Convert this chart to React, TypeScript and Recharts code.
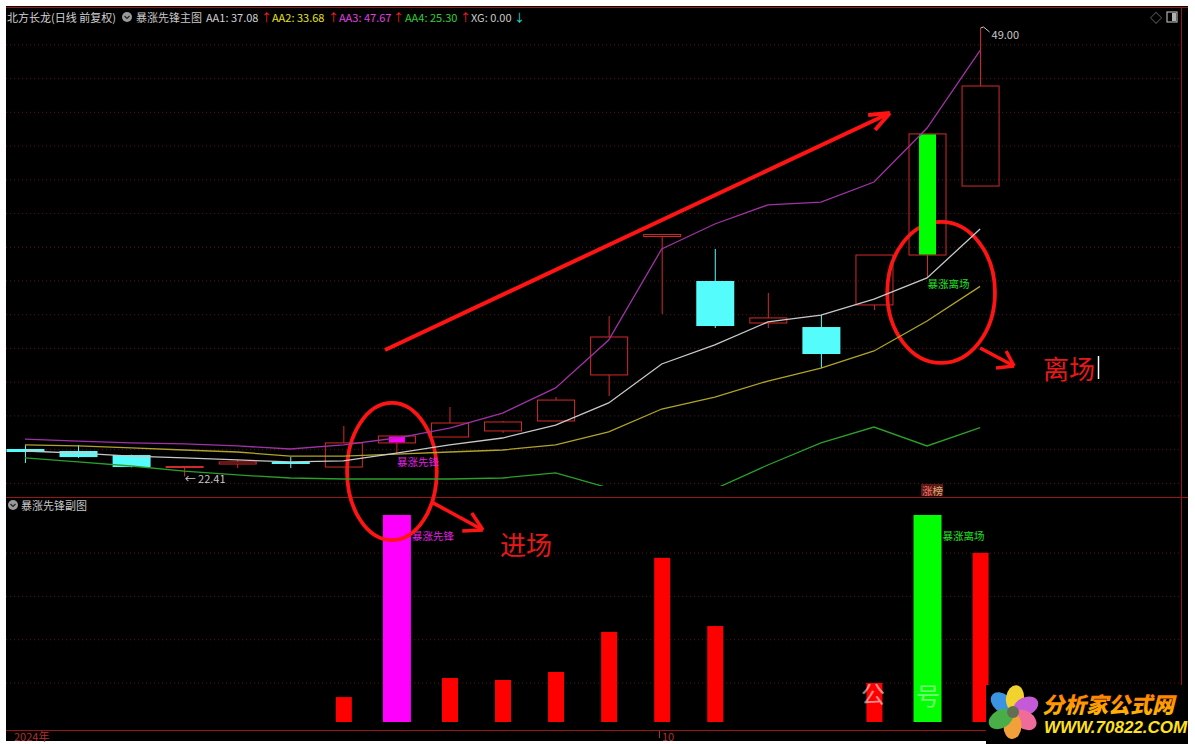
import React from 'react';
import {
  ComposedChart,
  Bar,
  Line,
  XAxis,
  YAxis,
  CartesianGrid,
  ReferenceLine,
  ReferenceArea,
  ReferenceDot,
} from 'recharts';

// ---------------- data ----------------
const candleIdx = [0, 1, 2, 3, 4, 5, 6, 7, 8, 9, 10, 11, 12, 13, 14, 15, 16, 17, 18];
const opens = [24.04, 23.92, 23.68, 22.97, 23.15, 23.27, 22.97, 24.40, 24.75, 25.11, 25.70, 28.43, 36.64, 34.00, 31.51, 31.27, 32.58, 35.54, 39.63];
const closes = [23.86, 23.56, 22.97, 23.00, 23.27, 23.15, 24.40, 24.81, 25.58, 25.64, 26.94, 30.68, 36.76, 31.33, 31.81, 29.67, 35.54, 42.72, 45.56];
const highs = [24.28, 24.28, 23.70, 23.03, 23.39, 23.56, 25.40, 24.81, 26.53, 25.70, 27.12, 31.92, 36.76, 35.90, 33.29, 31.98, 35.54, 42.72, 49.00];
const lows = [23.21, 23.51, 22.95, 22.41, 22.91, 22.91, 22.97, 23.80, 24.75, 24.99, 25.70, 27.18, 32.04, 31.21, 31.21, 28.84, 32.28, 34.18, 39.63];

const aa1 = [23.92, 23.80, 23.62, 23.51, 23.39, 23.27, 23.33, 23.80, 24.28, 24.69, 25.46, 26.77, 29.08, 30.21, 31.57, 31.98, 32.93, 34.18, 37.08];
const aa2 = [24.28, 24.22, 24.10, 23.98, 23.86, 23.62, 23.62, 23.74, 23.86, 23.98, 24.28, 25.05, 26.41, 27.12, 28.07, 28.84, 29.85, 31.63, 33.68];
const aa3 = [24.63, 24.51, 24.40, 24.34, 24.22, 24.04, 24.28, 24.69, 25.28, 26.17, 27.66, 30.50, 35.90, 37.38, 38.51, 38.68, 39.87, 43.07, 47.67];
const aa4 = [23.51, 23.27, 23.03, 22.73, 22.50, 22.32, 22.26, 22.26, 22.26, 22.32, 22.62, 21.73, 20.72, 21.67, 23.09, 24.40, 25.34, 24.22, 25.30];

const signals = ['', '', '', '', '', '', '', 'pioneer', '', '', '', '', '', '', '', '', '', 'exit', ''];
const subValues: (number | null)[] = [null, null, null, null, null, null, 11.5, 95.6, 20.3, 19.4, 23.1, 41.6, 75.8, 44.3, null, null, 18.0, 95.6, 78.1];

const gridPrices = [22, 24, 26, 28, 30, 32, 34, 36, 38, 40, 42, 44, 46, 48];
const subGrid = [18, 38, 58, 78];

const priceDomain: [number, number] = [21.845, 50.186];
const subDomain: [number, number] = [0, 103.9];
const xDomain: [number, number] = [-0.358, 21.786];

// annotations in data coordinates (index, price)
const trendArrowShaft = [[6.785, 29.91], [16.3, 43.96]];
const trendArrowHeads = [[15.89, 43.84], [16.02, 42.95]];
const exitArrowShaft = [[18.0, 30.03], [18.64, 28.96]];
const exitArrowHeads = [[18.3, 28.84], [18.49, 29.85]];
const entryEllipse = { x1: 6.07, x2: 7.76, y1: 18.64, y2: 26.77 };
const exitEllipse = { x1: 16.25, x2: 18.28, y1: 29.14, y2: 37.5 };
const entryArrowShaft = [[7.69, 101.2], [8.63, 88.7]];
const entryArrowHeads = [[8.24, 88.2], [8.42, 96.5]];
const rankBadge = { x: 17, y: 21.61, text1: '涨', text2: '榜' };

const headerItems = [
  { t: '北方长龙(日线 前复权)', x: 7, c: '#d2d2d2' },
  { t: '暴涨先锋主图', x: 136, c: '#c8c8c8' },
  { t: 'AA1: 37.08', x: 206, c: '#d0d0d0' },
  { t: '↑', x: 261, c: '#ff2020' },
  { t: 'AA2: 33.68', x: 272, c: '#e6e020' },
  { t: '↑', x: 328, c: '#ff2020' },
  { t: 'AA3: 47.67', x: 339, c: '#e040e0' },
  { t: '↑', x: 393, c: '#ff2020' },
  { t: 'AA4: 25.30', x: 405, c: '#30d030' },
  { t: '↑', x: 460, c: '#ff2020' },
  { t: 'XG: 0.00', x: 471, c: '#c8c8c8' },
  { t: '↓', x: 514, c: '#30e0e0' },
];

const hiIdx = highs.indexOf(Math.max(...highs));
const loIdx = lows.indexOf(Math.min(...lows));

const candleData = candleIdx.map((i) => ({
  i,
  o: opens[i],
  c: closes[i],
  h: highs[i],
  l: lows[i],
  range: [lows[i], highs[i]],
  aa1: aa1[i],
  aa2: aa2[i],
  aa3: aa3[i],
  aa4: aa4[i],
  sig: signals[i],
  hiLabel: i === hiIdx ? highs[i].toFixed(2) : null,
  loLabel: i === loIdx ? lows[i].toFixed(2) : null,
}));

const subData = candleIdx.map((i) => ({ i, v: subValues[i], sig: signals[i] }));

// ---------------- styles ----------------
const FONT = '"Noto Sans CJK SC", "Noto Sans", sans-serif';
const UP = '#d42a2a';
const DOWN = '#55fcfc';
const BORDER = '#9a1616';
const GRID = '#5a1414';
const ANNO = '#ff1414';

const CandleShape = (props: any) => {
  const { x, y, width, height, payload } = props;
  if (!payload || x == null || y == null) return null;
  const { o, c, h, l, sig, hiLabel, loLabel } = payload;
  const cx = x + width / 2;
  const top = Math.min(y, y + height);
  const hh = Math.abs(height);
  const py = (v: number) => top + ((h - v) / (h - l)) * hh;
  const up = c >= o;
  const bTop = py(Math.max(o, c));
  const bBot = py(Math.min(o, c));
  const bh = Math.max(bBot - bTop, 1);
  const half = width / 2;
  const parts: any[] = [];
  if (up) {
    parts.push(<line key="w1" x1={cx} x2={cx} y1={py(h)} y2={bTop} stroke={UP} strokeWidth={1} />);
    parts.push(<line key="w2" x1={cx} x2={cx} y1={bTop + bh} y2={py(l)} stroke={UP} strokeWidth={1} />);
    parts.push(<rect key="b" x={cx - half + 0.5} y={bTop} width={width - 1} height={bh} fill="none" stroke={UP} strokeWidth={1} />);
  } else {
    parts.push(<line key="w" x1={cx} x2={cx} y1={py(h)} y2={py(l)} stroke={DOWN} strokeWidth={1} />);
    parts.push(<rect key="b" x={cx - half} y={bTop} width={width} height={bh} fill={DOWN} />);
  }
  if (sig === 'pioneer') {
    parts.push(<rect key="m" x={cx - 8} y={bTop + 0.5} width={16} height={bh - 1} fill="#ff00ff" />);
    parts.push(
      <text key="ml" x={cx} y={py(l) + 8} fill="#e020e0" fontSize={10.5} fontFamily={FONT} dominantBaseline="central">
        暴涨先锋
      </text>
    );
  }
  if (sig === 'exit') {
    parts.push(<rect key="m" x={cx - 8.5} y={bTop + 0.5} width={17} height={bh - 1} fill="#00ff00" />);
    parts.push(
      <text key="ml" x={cx} y={py(l) + 6} fill="#20e020" fontSize={10.5} fontFamily={FONT} dominantBaseline="central">
        暴涨离场
      </text>
    );
  }
  if (hiLabel) {
    const ty = py(h);
    parts.push(<polyline key="hl" points={`${cx},${ty} ${cx + 3},${ty - 1} ${cx + 9},${ty + 4}`} fill="none" stroke="#c8c8c8" strokeWidth={1} />);
    parts.push(
      <text key="ht" x={cx + 11} y={ty + 6} fill="#c8c8c8" fontSize={11} fontFamily={FONT} dominantBaseline="central">
        {hiLabel}
      </text>
    );
  }
  if (loLabel) {
    const ty = py(l) + 2;
    parts.push(
      <text key="lt" x={cx} y={ty} fill="#c8c8c8" fontSize={11} fontFamily={FONT} dominantBaseline="central">
        {'← ' + loLabel}
      </text>
    );
  }
  return <g>{parts}</g>;
};

const SubBarShape = (props: any) => {
  const { x, y, width, height, payload } = props;
  if (!payload || payload.v == null || x == null) return null;
  const cx = x + width / 2;
  const sig = payload.sig;
  const w = sig ? 28 : 16;
  const fill = sig === 'pioneer' ? '#ff00ff' : sig === 'exit' ? '#00ff00' : '#ff0000';
  const top = Math.min(y, y + height);
  const hh = Math.abs(height);
  return (
    <g>
      <rect x={cx - w / 2} y={top} width={w} height={hh} fill={fill} />
      {sig ? (
        <text
          x={cx + w / 2 + 1}
          y={top + 21}
          fill={sig === 'pioneer' ? '#e020e0' : '#20e020'}
          fontSize={10.5}
          fontFamily={FONT}
          dominantBaseline="central"
        >
          {sig === 'pioneer' ? '暴涨先锋' : '暴涨离场'}
        </text>
      ) : null}
    </g>
  );
};

const EllipseShape = (props: any) => {
  const { x, y, width, height } = props;
  return (
    <ellipse
      cx={x + width / 2}
      cy={y + height / 2}
      rx={Math.abs(width) / 2}
      ry={Math.abs(height) / 2}
      fill="none"
      stroke={ANNO}
      strokeWidth={3.8}
    />
  );
};

const BadgeShape = (props: any) => {
  const { cx, cy } = props;
  return (
    <g>
      <rect x={cx - 6} y={cy - 6} width={22} height={12} fill="#5a1a12" />
      <text x={cx - 5} y={cy} fontSize={10.5} fontFamily={FONT} dominantBaseline="central">
        <tspan fill="#f07070">{rankBadge.text1}</tspan>
        <tspan fill="#d8a878">{rankBadge.text2}</tspan>
      </text>
    </g>
  );
};

const arrowSegs = (shaft: number[][], heads: number[][], w: number, key: string) => {
  const tip = shaft[1];
  const out = [
    <ReferenceLine
      key={key + 's'}
      segment={[{ x: shaft[0][0], y: shaft[0][1] }, { x: tip[0], y: tip[1] }]}
      stroke={ANNO}
      strokeWidth={w}
      ifOverflow="visible"
    />,
  ];
  heads.forEach((hd, k) =>
    out.push(
      <ReferenceLine
        key={key + 'h' + k}
        segment={[{ x: hd[0], y: hd[1] }, { x: tip[0], y: tip[1] }]}
        stroke={ANNO}
        strokeWidth={w}
        ifOverflow="visible"
      />
    )
  );
  return out;
};

const petals = [
  { a: -50, c: '#3a94e2' },
  { a: 8, c: '#f2d22e' },
  { a: 66, c: '#c45ad8' },
  { a: 124, c: '#ef6b9a' },
  { a: 182, c: '#f2a03a' },
  { a: 240, c: '#4aae48' },
];

export default function App() {
  return (
    <div style={{ position: 'absolute', left: 0, top: 0, width: 1195, height: 744, background: '#ffffff', overflow: 'hidden' }}>
      {/* background panel & borders */}
      <svg width={1195} height={744} style={{ position: 'absolute', left: 0, top: 0 }}>
        <rect x={6} y={6} width={1182} height={735} fill="#000000" />
        <line x1={6} x2={1188} y1={7.5} y2={7.5} stroke={BORDER} strokeWidth={1} />
        <line x1={6} x2={1188} y1={497.5} y2={497.5} stroke={BORDER} strokeWidth={1.2} />
        <line x1={1181.5} x2={1181.5} y1={8} y2={730} stroke={BORDER} strokeWidth={1} />
        <line x1={6} x2={1188} y1={730.5} y2={730.5} stroke={BORDER} strokeWidth={1} />
      </svg>

      {/* sub chart */}
      <div style={{ position: 'absolute', left: 0, top: 0 }}>
        <ComposedChart width={1195} height={744} data={subData} margin={{ top: 497, right: 14, bottom: 22, left: 6 }}>
          <CartesianGrid vertical={false} horizontalValues={subGrid} stroke={GRID} strokeDasharray="1 3" />
          <XAxis dataKey="i" type="number" domain={xDomain} allowDataOverflow hide />
          <YAxis domain={subDomain} ticks={subGrid} allowDataOverflow hide />
          <Bar dataKey="v" barSize={28} shape={SubBarShape} isAnimationActive={false} />
          {arrowSegs(entryArrowShaft, entryArrowHeads, 3.5, 'ea')}
        </ComposedChart>
      </div>

      {/* main chart */}
      <div style={{ position: 'absolute', left: 0, top: 0 }}>
        <ComposedChart width={1195} height={744} data={candleData} margin={{ top: 8, right: 14, bottom: 258, left: 6 }}>
          <CartesianGrid vertical={false} horizontalValues={gridPrices} stroke={GRID} strokeDasharray="1 3" />
          <XAxis dataKey="i" type="number" domain={xDomain} allowDataOverflow hide />
          <YAxis domain={priceDomain} ticks={gridPrices} allowDataOverflow hide />
          <Line dataKey="aa4" stroke="#2aa02a" strokeWidth={1.3} dot={false} isAnimationActive={false} />
          <Line dataKey="aa2" stroke="#b0a428" strokeWidth={1.3} dot={false} isAnimationActive={false} />
          <Line dataKey="aa1" stroke="#c8c8c8" strokeWidth={1.3} dot={false} isAnimationActive={false} />
          <Line dataKey="aa3" stroke="#a032a6" strokeWidth={1.3} dot={false} isAnimationActive={false} />
          <Bar dataKey="range" barSize={38} shape={CandleShape} isAnimationActive={false} />
          <ReferenceDot x={rankBadge.x} y={rankBadge.y} ifOverflow="visible" shape={BadgeShape} />
          <ReferenceArea {...entryEllipse} ifOverflow="visible" shape={EllipseShape} />
          <ReferenceArea {...exitEllipse} ifOverflow="visible" shape={EllipseShape} />
          {arrowSegs(trendArrowShaft, trendArrowHeads, 4, 'ta')}
          {arrowSegs(exitArrowShaft, exitArrowHeads, 3.5, 'xa')}
        </ComposedChart>
      </div>

      {/* foreground texts */}
      <svg width={1195} height={744} style={{ position: 'absolute', left: 0, top: 0, pointerEvents: 'none' }}>
        <defs>
          <linearGradient id="logoGrad" x1="0" y1="0" x2="0" y2="1">
            <stop offset="0" stopColor="#ff6a00" />
            <stop offset="1" stopColor="#ffc400" />
          </linearGradient>
        </defs>
        {headerItems.map((h, k) => (
          <text key={k} x={h.x} y={17} fill={h.c} fontSize={11} fontFamily={FONT} dominantBaseline="central">
            {h.t}
          </text>
        ))}
        <circle cx={127} cy={17} r={5} fill="#9a9a9a" />
        <polyline points="124.5,16 127,18.5 129.5,16" fill="none" stroke="#222" strokeWidth={1.2} />
        <text x={1150} y={17} fill="#8a8a8a" fontSize={12} fontFamily={FONT} dominantBaseline="central">◇</text>
        <rect x={1167} y={12} width={10} height={10} fill="none" stroke="#b0b0b0" strokeWidth={1.2} />
        <rect x={1172} y={13} width={4} height={8} fill="#b0b0b0" />

        <circle cx={13} cy={505} r={5} fill="#9a9a9a" />
        <polyline points="10.5,504 13,506.5 15.5,504" fill="none" stroke="#222" strokeWidth={1.2} />
        <text x={21} y={505} fill="#c8c8c8" fontSize={11} fontFamily={FONT} dominantBaseline="central">暴涨先锋副图</text>

        <text x={500} y={543} fill="#e81818" fontSize={26} fontFamily={FONT} dominantBaseline="central">进场</text>
        <text x={1043} y={367} fill="#e81818" fontSize={26} fontFamily={FONT} dominantBaseline="central">离场</text>
        <line x1={1098.5} x2={1098.5} y1={356} y2={379} stroke="#ffffff" strokeWidth={1.5} />

        <text x={14} y={736} fill="#b03030" fontSize={11} fontFamily={FONT} dominantBaseline="central">2024年</text>
        <line x1={659.5} x2={659.5} y1={731} y2={738} stroke="#b03030" strokeWidth={1} />
        <text x={662} y={736} fill="#b03030" fontSize={11} fontFamily={FONT} dominantBaseline="central">10</text>

        <text x={861} y={692} fill="#ffffff" opacity={0.55} fontSize={24} fontFamily={FONT} dominantBaseline="central">公</text>
        <text x={916} y={694} fill="#ffffff" opacity={0.45} fontSize={24} fontFamily={FONT} dominantBaseline="central">号</text>

        {/* logo */}
        <rect x={986} y={685} width={202} height={59} fill="#000000" />
        {petals.map((p, k) => (
          <ellipse
            key={k}
            cx={1013}
            cy={698}
            rx={9}
            ry={13}
            fill={p.c}
            transform={`rotate(${p.a} 1013 712)`}
          />
        ))}
        <circle cx={1013} cy={712} r={6} fill="#5f6f50" />
        <text x={1042} y={703} fill="url(#logoGrad)" fontSize={22} fontWeight={900} fontStyle="italic" fontFamily={FONT} dominantBaseline="central">
          分析家公式网
        </text>
        <text x={1044} y={727} fill="#ffe21a" fontSize={17} fontWeight={700} fontStyle="italic" fontFamily="'Liberation Sans', Arial, sans-serif" dominantBaseline="central">
          WWW.70822.COM
        </text>
      </svg>
    </div>
  );
}
